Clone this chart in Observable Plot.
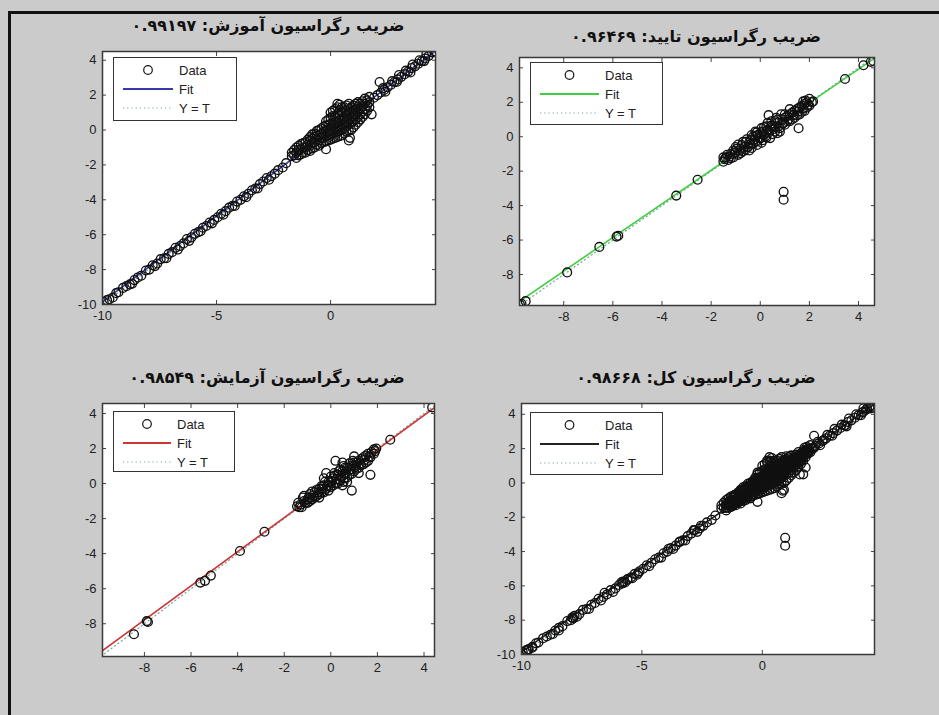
<!DOCTYPE html>
<html><head><meta charset="utf-8">
<script src="https://cdn.jsdelivr.net/npm/d3@7"></script>
<script src="https://cdn.jsdelivr.net/npm/@observablehq/plot@0.6"></script>
<style>
body{margin:0;background:#cbcbcb;width:939px;height:715px;overflow:hidden;position:relative;font-family:"Liberation Sans",Arial,sans-serif;}
#frame{position:absolute;left:8px;top:11px;width:960px;height:720px;border-left:3px solid #111;border-top:3px solid #111;}
.panel{position:absolute;}
.title{position:absolute;direction:rtl;font-family:"DejaVu Sans";font-weight:bold;font-size:16px;color:#111;white-space:nowrap;transform:translateX(-50%);}
.legend{position:absolute;background:#fff;border:1px solid #333;box-sizing:border-box;}
</style></head><body>
<div id="frame"></div>
<div id="root"></div>
<script>
// ---- data (target, output) ----
const trainPoints = [
 [-9.95,-9.85],[-9.8,-9.75],[-9.7,-9.7],[-9.55,-9.6],[-9.4,-9.35],[-9.3,-9.3],[-9.1,-9.05],[-8.95,-8.95],[-8.8,-8.85],[-8.6,-8.6],
 [-8.45,-8.45],[-8.3,-8.35],[-8.1,-8.05],[-7.95,-8.0],[-7.8,-7.75],[-7.6,-7.65],[-7.45,-7.4],[-7.3,-7.35],[-7.1,-7.1],[-6.95,-7.0],
 [-6.8,-6.75],[-6.6,-6.65],[-6.45,-6.5],[-6.3,-6.25],[-6.1,-6.15],[-5.95,-5.95],[-5.8,-5.85],[-5.6,-5.6],[-5.45,-5.5],[-5.3,-5.3],
 [-5.1,-5.15],[-4.95,-5.0],[-4.8,-4.8],[-4.6,-4.65],[-4.45,-4.45],[-4.3,-4.35],[-4.1,-4.1],[-3.95,-4.0],[-3.8,-3.8],[-3.6,-3.65],
 [-3.45,-3.45],[-3.3,-3.35],[-3.1,-3.1],[-2.95,-2.95],[-2.8,-2.75],[-2.6,-2.65],[-2.45,-2.5],[-2.3,-2.3],[-2.1,-2.15],[-1.95,-1.9],
 [-7.2,-7.35],[-6.2,-6.35],[-5.2,-5.35],[-4.2,-4.35],[-3.2,-3.35],[-8.7,-8.8],[-7.7,-7.8],[-6.7,-6.85],[-5.7,-5.8],[-4.7,-4.85],
 [-3.7,-3.85],[-2.7,-2.85],
 [1.9,1.85],[2.05,2.0],[2.2,2.15],[2.35,2.3],[2.5,2.45],[2.65,2.6],[2.8,2.75],[2.95,2.9],[3.1,3.05],[3.25,3.2],
 [3.4,3.35],[3.55,3.55],[3.7,3.65],[3.85,3.8],[4.0,3.95],[4.15,4.1],[4.3,4.25],[4.45,4.45],[4.55,4.5],
 [2.3,2.4],[2.7,2.8],[3.0,3.15],[3.3,3.4],[3.6,3.75],[3.9,4.0],[4.2,4.35],[2.4,2.2],[2.9,2.75],[3.5,3.3],[4.1,3.95],
 [2.15,2.75],[1.8,0.9],[0.8,-0.6],[-0.2,-1.1],[0.3,1.5],[0.85,-0.45],
 [-1.7,-1.5],[-1.7,-1.3],[-1.5,-1.6],[-1.5,-1.3],[-1.5,-1.0],[-1.3,-1.4],[-1.3,-1.1],[-1.3,-0.8],[-1.1,-1.3],[-1.1,-1.0],
 [-1.1,-0.7],[-0.9,-1.2],[-0.9,-0.9],[-0.9,-0.6],[-0.9,-0.4],[-0.7,-1.0],[-0.7,-0.7],[-0.7,-0.4],[-0.7,-0.2],[-0.5,-0.9],
 [-0.5,-0.6],[-0.5,-0.3],[-0.5,0.0],[-0.3,-0.7],[-0.3,-0.4],[-0.3,-0.1],[-0.3,0.2],[-0.1,-0.6],[-0.1,-0.3],[-0.1,0.0],
 [-0.1,0.3],[-0.1,0.6],[0.1,-0.5],[0.1,-0.2],[0.1,0.1],[0.1,0.4],[0.1,0.8],[0.1,1.1],[0.3,-0.4],[0.3,-0.1],
 [0.3,0.2],[0.3,0.5],[0.3,0.9],[0.3,1.3],[0.5,-0.3],[0.5,0.0],[0.5,0.3],[0.5,0.6],[0.5,1.0],[0.5,1.3],
 [0.7,-0.1],[0.7,0.2],[0.7,0.5],[0.7,0.8],[0.7,1.1],[0.7,1.4],[0.9,0.0],[0.9,0.4],[0.9,0.7],[0.9,1.0],
 [0.9,1.3],[1.1,0.3],[1.1,0.6],[1.1,0.9],[1.1,1.2],[1.1,1.5],[1.3,0.6],[1.3,0.9],[1.3,1.2],[1.3,1.5],
 [1.5,0.9],[1.5,1.2],[1.5,1.5],[1.5,1.8],[1.7,1.3],[1.7,1.6],[1.7,1.9],
 [-1.6,-1.45],[-1.6,-1.15],[-1.4,-1.45],[-1.4,-1.15],[-1.4,-0.9],[-1.2,-1.3],[-1.2,-1.0],[-1.2,-0.75],[-1.0,-1.15],[-1.0,-0.85],
 [-1.0,-0.55],[-0.8,-1.05],[-0.8,-0.75],[-0.8,-0.5],[-0.8,-0.25],[-0.6,-0.85],[-0.6,-0.55],[-0.6,-0.3],[-0.6,-0.05],[-0.4,-0.75],
 [-0.4,-0.45],[-0.4,-0.2],[-0.4,0.1],[-0.2,-0.65],[-0.2,-0.35],[-0.2,-0.05],[-0.2,0.25],[-0.2,0.5],[0.0,-0.55],[0.0,-0.25],
 [0.0,0.05],[0.0,0.35],[0.0,0.7],[0.0,1.0],[0.2,-0.45],[0.2,-0.15],[0.2,0.15],[0.2,0.45],[0.2,0.75],[0.2,1.2],
 [0.4,-0.35],[0.4,-0.05],[0.4,0.25],[0.4,0.55],[0.4,0.85],[0.4,1.15],[0.4,1.45],[0.6,-0.2],[0.6,0.1],[0.6,0.4],
 [0.6,0.7],[0.6,1.0],[0.6,1.3],[0.8,-0.05],[0.8,0.3],[0.8,0.6],[0.8,0.9],[0.8,1.2],[0.8,1.5],[1.0,0.15],
 [1.0,0.5],[1.0,0.8],[1.0,1.1],[1.0,1.4],[1.2,0.45],[1.2,0.75],[1.2,1.05],[1.2,1.35],[1.2,1.6],[1.4,0.75],
 [1.4,1.05],[1.4,1.35],[1.4,1.65],[1.6,1.1],[1.6,1.4],[1.6,1.7]
];
const valPoints = [
 [-9.78,-9.75],[-9.72,-9.7],[-9.55,-9.55],[-7.86,-7.88],[-6.55,-6.4],[-5.85,-5.8],[-5.78,-5.75],[-3.42,-3.42],[-2.55,-2.5],
 [3.45,3.35],[4.2,4.15],[4.5,4.35],[4.6,4.4],
 [0.95,-3.2],[0.95,-3.66],
 [-1.5,-1.45],[-1.4,-1.2],[-1.3,-1.35],[-1.2,-1.0],[-1.1,-1.2],[-1.0,-0.6],[-1.0,-0.9],[-0.9,-1.05],[-0.8,-0.7],[-0.75,-0.48],
 [-0.7,-0.85],[-0.6,-0.3],[-0.5,-0.6],[-0.4,-0.2],[-0.4,-0.45],[-0.3,0.0],[-0.2,-0.3],[-0.13,-0.48],[-0.1,0.1],[0.0,-0.1],
 [0.1,0.3],[0.2,0.0],[0.34,1.25],[0.3,0.4],[0.4,-0.08],[0.5,0.6],[0.6,0.3],[0.7,0.8],[0.8,0.5],[0.9,1.0],
 [1.0,0.7],[1.1,1.2],[1.2,0.9],[1.3,1.4],[1.4,1.1],[1.5,1.6],[1.56,0.49],[1.6,1.3],[1.7,1.8],[1.8,1.5],
 [1.9,2.0],[2.0,1.8],[2.0,2.2],[2.15,2.05],[1.0,1.3],[0.6,0.9],[0.3,0.8],[-0.2,0.3],[0.1,-0.2],[0.7,0.2],[1.2,1.6],
 [-1.45,-1.3],[-1.25,-1.15],[-1.05,-0.95],[-0.85,-0.8],[-0.65,-0.6],[-0.45,-0.35],[-0.25,-0.15],[-0.05,-0.05],[0.15,0.1],[0.35,0.25],
 [0.55,0.45],[0.75,0.6],[0.95,0.8],[1.15,1.0],[1.35,1.25],[1.55,1.45],[1.75,1.65],[1.95,1.85],[0.25,0.6],[0.45,0.9],
 [0.65,1.1],[0.85,1.3],[-0.35,-0.65],[-0.15,0.25],[0.05,0.5],[1.85,2.1],
 [-1.5,-1.2],[-1.35,-1.05],[-1.2,-1.25],[-1.1,-0.8],[-0.95,-0.7],[-0.9,-0.45],[-0.8,-0.95],[-0.7,-0.3],[-0.6,-0.75],[-0.55,-0.15],
 [-0.45,-0.8],[-0.35,0.1],[-0.3,-0.4],[-0.2,0.05],[-0.1,-0.25],[0.0,0.2],[0.05,-0.35],[0.15,0.55],[0.25,-0.05],[0.35,0.35],
 [0.45,0.65],[0.5,0.15],[0.6,0.55],[0.7,1.0],[0.8,0.3],[0.9,0.75],[1.0,1.1],[1.1,0.9],[1.2,1.3],[1.3,1.0],
 [1.4,1.5],[1.5,1.25],[1.6,1.7],[1.7,1.45],[1.8,1.9],[1.9,1.7],[2.1,2.0],[1.75,2.05]
];
const testPoints = [
 [-8.45,-8.6],[-7.9,-7.85],[-7.85,-7.9],[-5.6,-5.65],[-5.4,-5.55],[-5.15,-5.25],[-3.9,-3.85],[-2.85,-2.75],[4.35,4.35],[2.55,2.5],
 [0.2,1.3],[1.0,1.55],[1.7,0.5],[0.9,-0.4],
 [-1.45,-1.3],[-1.3,-1.2],[-1.2,-0.8],[-1.1,-1.1],[-1.0,-0.9],[-0.9,-0.6],[-0.8,-0.9],[-0.7,-0.5],[-0.6,-0.7],[-0.5,-0.3],
 [-0.4,-0.5],[-0.3,-0.1],[-0.2,0.6],[-0.2,-0.3],[-0.1,0.1],[0.0,-0.2],[0.1,0.3],[0.2,0.0],[0.3,0.5],[0.4,0.2],
 [0.5,0.7],[0.6,0.3],[0.7,0.9],[0.8,0.5],[0.9,1.0],[1.0,0.7],[1.1,1.2],[1.2,0.9],[1.3,1.4],[1.4,1.1],
 [1.5,1.6],[1.6,1.3],[1.75,1.8],[1.9,1.85],[1.95,2.0],[0.0,0.4],[0.3,0.0],[0.6,0.9],[-0.5,-0.8],[0.7,0.1],
 [1.0,1.0],[-0.9,-1.0],[-0.1,-0.4],[0.4,0.8],
 [-1.35,-1.35],[-1.15,-1.0],[-0.95,-0.8],[-0.75,-0.7],[-0.55,-0.5],[-0.35,-0.3],[-0.15,-0.1],[0.05,0.1],[0.25,0.25],[0.45,0.45],
 [0.65,0.6],[0.85,0.8],[1.05,0.95],[1.25,1.15],[1.45,1.35],[1.65,1.55],[1.85,1.7],[0.15,0.6],[0.55,1.0],[0.95,1.3],
 [-0.3,0.3],[0.5,-0.1],[1.2,0.6],
 [-1.4,-1.1],[-1.25,-1.35],[-1.15,-0.7],[-1.0,-1.1],[-0.9,-0.8],[-0.8,-0.45],[-0.7,-0.8],[-0.6,-0.35],[-0.5,-0.6],[-0.4,-0.15],
 [-0.3,-0.5],[-0.25,0.1],[-0.1,-0.15],[0.0,0.15],[0.1,-0.1],[0.15,0.45],[0.25,0.05],[0.35,0.7],[0.45,0.35],[0.55,0.1],
 [0.6,0.6],[0.7,0.35],[0.8,0.8],[0.9,0.55],[1.0,1.2],[1.1,0.85],[1.2,1.3],[1.3,1.05],[1.4,1.5],[1.5,1.2],
 [1.6,1.7],[1.7,1.5],[1.85,1.95],[0.5,1.2],[0.8,1.15]
];
const allPoints = [...trainPoints, ...valPoints, ...testPoints];

const titles = ["ضریب رگراسیون آموزش: ۰.۹۹۱۹۷", "ضریب رگراسیون تایید: ۰.۹۶۴۶۹", "ضریب رگراسیون آزمایش: ۰.۹۸۵۴۹", "ضریب رگراسیون کل: ۰.۹۸۶۶۸"];
const fitSlopes = [0.985, 0.977, 0.973, 0.985];
const fitIntercepts = [0.0, 0.01, 0.0, 0.0];
const fitColors = ["#3a3aa8", "#3fcf3f", "#cc3535", "#222222"];
const legendLabels = ["Data", "Fit", "Y = T"];
const ticksA = [-10, -5, 0];
const ticksB = [-8, -6, -4, -2, 0, 2, 4];
const ticksC = [-10, -8, -6, -4, -2, 0, 2, 4];

// ---- layout ----
const ML = 40, MR = 10, MT = 6, MB = 28;
const panels = [
  {pts: trainPoints, xd: [-10, 4.6], yd: [-10, 4.5], xt: ticksA, yt: ticksC, box: {x: 102, y: 51, w: 333, h: 253}, title: {x: 268, y: 16}, leg: {x: 113, y: 57, w: 124, h: 64}},
  {pts: valPoints, xd: [-9.8, 4.65], yd: [-9.8, 4.6], xt: ticksB, yt: ticksB, box: {x: 519, y: 57, w: 355, h: 248}, title: {x: 696, y: 27}, leg: {x: 530, y: 62, w: 133, h: 63}},
  {pts: testPoints, xd: [-9.8, 4.45], yd: [-9.87, 4.57], xt: ticksB, yt: ticksB, box: {x: 102, y: 403, w: 332, h: 253}, title: {x: 267, y: 368}, leg: {x: 113, y: 411, w: 122, h: 61}},
  {pts: allPoints, xd: [-10, 4.66], yd: [-10, 4.63], xt: ticksA, yt: ticksC, box: {x: 521, y: 403, w: 353, h: 251}, title: {x: 696, y: 368}, leg: {x: 530, y: 412, w: 133, h: 63}}
];

const root = document.getElementById("root");
const fmt = d => `${d}`;
panels.forEach((p, i) => {
  const diag = [{v: Math.min(p.xd[0], p.yd[0]) - 1}, {v: Math.max(p.xd[1], p.yd[1]) + 1}];
  const fitLine = diag.map(d => ({x: d.v, y: fitSlopes[i] * d.v + fitIntercepts[i]}));
  const chart = Plot.plot({
    width: p.box.w + ML + MR, height: p.box.h + MT + MB,
    marginLeft: ML, marginRight: MR, marginTop: MT, marginBottom: MB,
    style: {background: "transparent", fontFamily: "Liberation Sans, Arial, sans-serif", fontSize: "12px", color: "#222", overflow: "visible"},
    x: {domain: p.xd}, y: {domain: p.yd},
    marks: [
      Plot.frame({fill: "white"}),
      Plot.line(diag, {x: "v", y: "v", stroke: "#7fa3a3", strokeWidth: 1.2, strokeDasharray: "1.2,3", clip: true}),
      Plot.line(fitLine, {x: "x", y: "y", stroke: fitColors[i], strokeWidth: 1.6, clip: true}),
      Plot.dot(p.pts, {x: d => d[0], y: d => d[1], r: 4.4, stroke: "#111", strokeWidth: 1.35, fill: "none", clip: true}),
      Plot.axisX({ticks: p.xt, anchor: "bottom", tickSize: 0, tickPadding: 6, tickFormat: fmt, label: null, fontSize: 13}),
      Plot.axisX({ticks: p.xt, anchor: "bottom", tickSize: -4, tickFormat: () => "", label: null, stroke: "#444"}),
      Plot.axisX({ticks: p.xt, anchor: "top", tickSize: -4, tickFormat: () => "", label: null, stroke: "#444"}),
      Plot.axisY({ticks: p.yt, anchor: "left", tickSize: 0, tickPadding: 6, tickFormat: fmt, label: null, fontSize: 13}),
      Plot.axisY({ticks: p.yt, anchor: "left", tickSize: -4, tickFormat: () => "", label: null, stroke: "#444"}),
      Plot.axisY({ticks: p.yt, anchor: "right", tickSize: -4, tickFormat: () => "", label: null, stroke: "#444"}),
      Plot.frame({stroke: "#3a3a3a", strokeWidth: 1.5})
    ]
  });
  const wrap = document.createElement("div");
  wrap.className = "panel";
  wrap.style.left = (p.box.x - ML) + "px";
  wrap.style.top = (p.box.y - MT) + "px";
  wrap.appendChild(chart);
  root.appendChild(wrap);

  const t = document.createElement("div");
  t.className = "title";
  t.style.left = p.title.x + "px";
  t.style.top = p.title.y + "px";
  t.textContent = titles[i];
  root.appendChild(t);

  // legend
  const L = p.leg;
  const lg = document.createElement("div");
  lg.className = "legend";
  lg.style.left = L.x + "px"; lg.style.top = L.y + "px";
  lg.style.width = L.w + "px"; lg.style.height = L.h + "px";
  const lineEnd = L.w - 64, tx = L.w - 58, cx = (10 + lineEnd) / 2;
  const rows = [13, 32, 51];
  lg.innerHTML = `<svg width="${L.w}" height="${L.h}" style="position:absolute;left:-1px;top:-1px;font-family:'Liberation Sans',Arial,sans-serif;font-size:13px;fill:#222">
    <circle cx="${cx}" cy="${rows[0]}" r="4.3" fill="none" stroke="#151515" stroke-width="1.2"/>
    <line x1="10" x2="${lineEnd}" y1="${rows[1]}" y2="${rows[1]}" stroke="${fitColors[i]}" stroke-width="1.8"/>
    <line x1="10" x2="${lineEnd}" y1="${rows[2]}" y2="${rows[2]}" stroke="#7fa3a3" stroke-width="1.2" stroke-dasharray="1.2,3"/>
    ${legendLabels.map((s, k) => `<text x="${tx}" y="${rows[k] + 4.5}">${s}</text>`).join("")}
  </svg>`;
  root.appendChild(lg);
});
</script>
</body></html>
